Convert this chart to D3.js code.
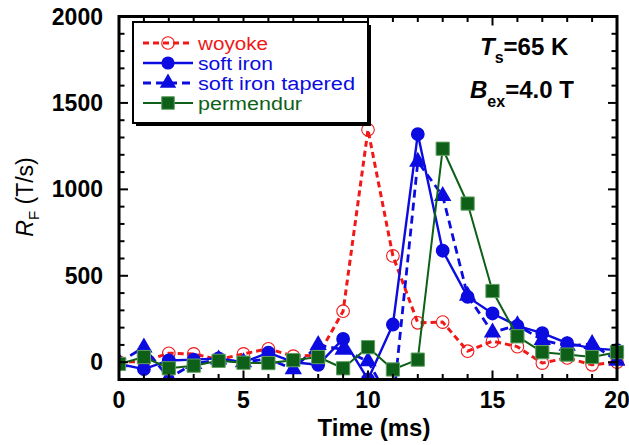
<!DOCTYPE html>
<html>
<head>
<meta charset="utf-8">
<script src="https://cdn.jsdelivr.net/npm/d3@7/dist/d3.min.js"></script>
<style>
  html, body { margin: 0; padding: 0; background: #fff; }
  svg { display: block; font-family: "Liberation Sans", Arial, sans-serif; }
</style>
</head>
<body>
<svg id="chart" width="629" height="445"></svg>
<script>
// Time axis (ms)
const times = d3.range(0, 21);

// R_F (T/s) for each core material
const woyoke    = [0, 5, 52, 48, 15, 48, 78, 35, 40, 295, 1345, 615, 228, 232, 64, 122, 90, -5, 25, -15, 0];
const softIron  = [-10, -40, 10, 15, 22, 0, 55, 0, -15, 135, -100, 218, 1320, 645, 378, 282, 210, 168, 110, 80, 70];
const tapered   = [0, 85, -90, -10, 15, 0, 20, -40, 100, 72, 5, -250, 1160, 962, 385, 172, 214, 128, 95, 105, 8];
const permendur = [-10, 30, -35, -20, 8, -3, -5, 12, 30, -35, 87, -42, 15, 1235, 918, 412, 150, 58, 44, 30, 58];

const seriesNames = ["woyoke", "soft iron", "soft iron tapered", "permendur"];

// Tick values
const xTicks = [0, 5, 10, 15, 20];
const yTicks = [0, 500, 1000, 1500, 2000];

const svg = d3.select("#chart");
const L = 119, R = 617, T = 16.5, B = 379.5;

const x = d3.scaleLinear().domain([0, 20]).range([L, R]);
const y = d3.scaleLinear().domain([-100, 2000]).range([B, T]);

const RED = "#f01818", BLUE = "#0c0ce0", GREEN = "#0e6018", GREEN_EDGE = "#5f9f62";

const styles = [
  { values: woyoke,    color: RED,   width: 3.0, dash: "6,4", sym: "openCircle" },
  { values: softIron,  color: BLUE,  width: 2.4, dash: null,  sym: "circle" },
  { values: tapered,   color: BLUE,  width: 2.8, dash: "8,5", sym: "triangle" },
  { values: permendur, color: GREEN, width: 2.0, dash: null,  sym: "square" }
];

svg.append("defs").append("clipPath").attr("id", "plotClip")
  .append("rect").attr("x", L).attr("y", T - 8).attr("width", R - L + 8).attr("height", B - T + 8);

// Marker drawing
function drawMarker(g, kind, color, cx, cy, scale = 1) {
  if (kind === "openCircle") {
    g.append("circle").attr("cx", cx).attr("cy", cy).attr("r", 6.3 * scale)
      .attr("fill", "none").attr("stroke", color).attr("stroke-width", 1.1);
  } else if (kind === "circle") {
    g.append("path").attr("d", d3.symbol(d3.symbolCircle, 150 * scale * scale)())
      .attr("transform", `translate(${cx},${cy})`).attr("fill", color);
  } else if (kind === "triangle") {
    g.append("path").attr("d", d3.symbol(d3.symbolTriangle, 130 * scale * scale)())
      .attr("transform", `translate(${cx},${cy})`).attr("fill", color);
  } else if (kind === "square") {
    g.append("path").attr("d", d3.symbol(d3.symbolSquare, 175 * scale * scale)())
      .attr("transform", `translate(${cx},${cy})`).attr("fill", color)
      .attr("stroke", GREEN_EDGE).attr("stroke-width", 1);
  }
}

// Data series
const plot = svg.append("g").attr("clip-path", "url(#plotClip)");
const line = d3.line().x((d, i) => x(times[i])).y(d => y(d));

styles.forEach(s => {
  const g = plot.append("g");
  g.append("path").datum(s.values).attr("d", line)
    .attr("fill", "none").attr("stroke", s.color).attr("stroke-width", s.width)
    .attr("stroke-dasharray", s.dash).attr("stroke-linejoin", "round");
  s.values.forEach((v, i) => drawMarker(g, s.sym, s.color, x(times[i]), y(v)));
});

// Frame and ticks
const axes = svg.append("g");
const minorX = d3.range(0, 21, 1);
const minorY = d3.range(-100, 2001, 100);
const tickG = axes.append("g").attr("stroke", "#000").attr("stroke-width", 2);

minorX.forEach(t => {
  const len = xTicks.includes(t) ? 9 : 5.5;
  tickG.append("line").attr("x1", x(t)).attr("x2", x(t)).attr("y1", B).attr("y2", B - len);
  tickG.append("line").attr("x1", x(t)).attr("x2", x(t)).attr("y1", T).attr("y2", T + len);
});
minorY.forEach(t => {
  const len = yTicks.includes(t) ? 9 : 5.5;
  tickG.append("line").attr("x1", L).attr("x2", L + len).attr("y1", y(t)).attr("y2", y(t));
  tickG.append("line").attr("x1", R).attr("x2", R - len).attr("y1", y(t)).attr("y2", y(t));
});

axes.append("rect").attr("x", L).attr("y", T).attr("width", R - L).attr("height", B - T)
  .attr("fill", "none").attr("stroke", "#000").attr("stroke-width", 3);

// Tick labels
const xAxisLabels = svg.append("g").attr("font-size", 23).attr("font-weight", "bold")
  .attr("text-anchor", "middle");
x.ticks(4).forEach(t => {
  xAxisLabels.append("text").attr("x", x(t)).attr("y", 408).text(t);
});
const yAxisLabels = svg.append("g").attr("font-size", 23).attr("font-weight", "bold")
  .attr("text-anchor", "end");
yTicks.forEach(t => {
  yAxisLabels.append("text").attr("x", 103).attr("y", y(t) + 8).text(t);
});

// Axis titles
svg.append("text").attr("x", (L + R) / 2 + 6).attr("y", 436)
  .attr("text-anchor", "middle").attr("font-size", 24).attr("font-weight", "bold")
  .text("Time (ms)");

const yTitle = svg.append("text").attr("transform", "translate(33,197) rotate(-90)")
  .attr("text-anchor", "middle").attr("font-size", 23);
yTitle.append("tspan").attr("font-style", "italic").text("R");
yTitle.append("tspan").attr("font-size", 15).attr("dy", 6).text("F");
yTitle.append("tspan").attr("dy", -6).text(" (T/s)");

// Condition annotation
const ann1 = svg.append("text").attr("x", 480).attr("y", 55)
  .attr("font-size", 24).attr("font-weight", "bold");
ann1.append("tspan").attr("font-style", "italic").text("T");
ann1.append("tspan").attr("font-size", 16).attr("dy", 8).text("s");
ann1.append("tspan").attr("dy", -8).text("=65 K");

const ann2 = svg.append("text").attr("x", 470).attr("y", 98)
  .attr("font-size", 24).attr("font-weight", "bold");
ann2.append("tspan").attr("font-style", "italic").text("B");
ann2.append("tspan").attr("font-size", 16).attr("dy", 9).text("ex");
ann2.append("tspan").attr("dy", -9).text("=4.0 T");

// Legend
const leg = svg.append("g");
const LX = 133, LY = 22, LW = 235, LH = 101;
leg.append("rect").attr("x", LX + 3).attr("y", LY + 3).attr("width", LW).attr("height", LH).attr("fill", "#000");
leg.append("rect").attr("x", LX).attr("y", LY).attr("width", LW).attr("height", LH)
  .attr("fill", "#fff").attr("stroke", "#000").attr("stroke-width", 2);

const rowY = [43, 63, 83, 103];
const textLen = [70, 75, 157, 104];
styles.forEach((s, i) => {
  const cy = rowY[i];
  leg.append("line").attr("x1", 143).attr("x2", 193).attr("y1", cy).attr("y2", cy)
    .attr("stroke", s.color).attr("stroke-width", s.width).attr("stroke-dasharray", s.dash);
  drawMarker(leg, s.sym, s.color, 168, cy, s.sym === "openCircle" ? 1 : 0.95);
  leg.append("text").attr("x", 198).attr("y", cy + 6.5)
    .attr("font-size", 18).attr("fill", s.color)
    .attr("textLength", textLen[i]).attr("lengthAdjust", "spacingAndGlyphs")
    .text(seriesNames[i]);
});
</script>
</body>
</html>
